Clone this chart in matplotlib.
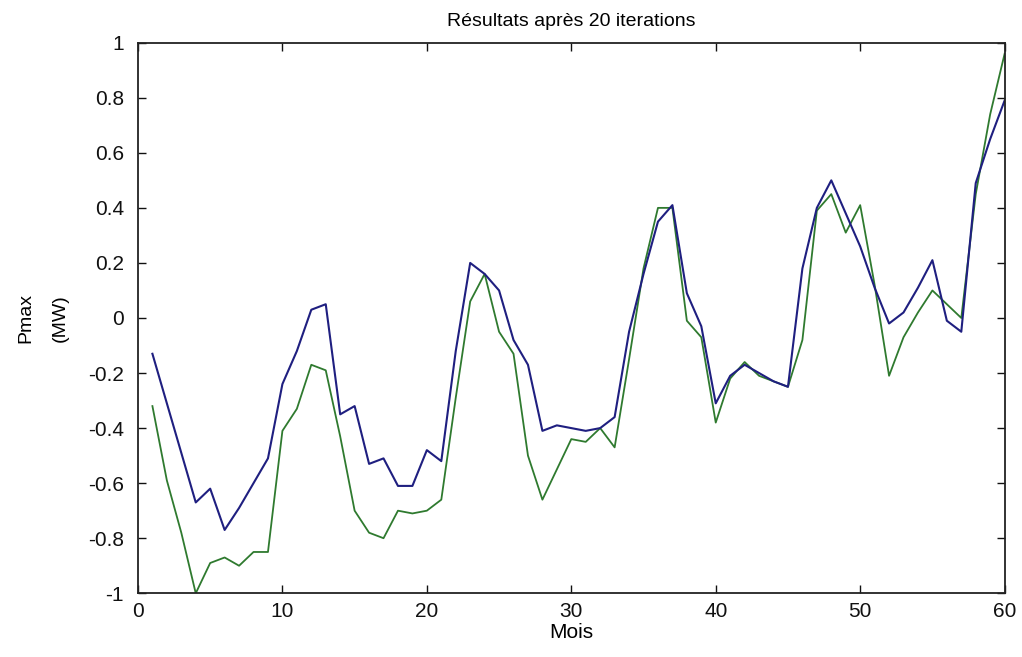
import matplotlib
matplotlib.use("Agg")
import matplotlib.pyplot as plt

# monthly Pmax values (MW) for the two runs
mois = list(range(1, 61))
pmax_bleu = [
    -0.13, -0.31, -0.49, -0.67, -0.62, -0.77, -0.69, -0.60, -0.51, -0.24,
    -0.12, 0.03, 0.05, -0.35, -0.32, -0.53, -0.51, -0.61, -0.61, -0.48,
    -0.52, -0.12, 0.20, 0.16, 0.10, -0.08, -0.17, -0.41, -0.39, -0.40,
    -0.41, -0.40, -0.36, -0.05, 0.16, 0.35, 0.41, 0.09, -0.03, -0.31,
    -0.21, -0.17, -0.20, -0.23, -0.25, 0.18, 0.40, 0.50, 0.38, 0.26,
    0.11, -0.02, 0.02, 0.11, 0.21, -0.01, -0.05, 0.49, 0.65, 0.79,
]
pmax_vert = [
    -0.32, -0.59, -0.78, -1.00, -0.89, -0.87, -0.90, -0.85, -0.85, -0.41,
    -0.33, -0.17, -0.19, -0.43, -0.70, -0.78, -0.80, -0.70, -0.71, -0.70,
    -0.66, -0.29, 0.06, 0.16, -0.05, -0.13, -0.50, -0.66, -0.55, -0.44,
    -0.45, -0.40, -0.47, -0.15, 0.18, 0.40, 0.40, -0.01, -0.07, -0.38,
    -0.22, -0.16, -0.21, -0.23, -0.25, -0.08, 0.39, 0.45, 0.31, 0.41,
    0.12, -0.21, -0.07, 0.02, 0.10, 0.05, 0.00, 0.45, 0.74, 0.96,
]
x_ticks = [0, 10, 20, 30, 40, 50, 60]
y_ticks = [-1, -0.8, -0.6, -0.4, -0.2, 0, 0.2, 0.4, 0.6, 0.8, 1]

plt.rcParams["font.family"] = ["Liberation Sans", "DejaVu Sans"]

fig = plt.figure(figsize=(10.22, 6.57), dpi=100)
ax = fig.add_axes([0.135, 0.097, 0.848, 0.838])

ax.plot(mois, pmax_vert, color="#2f7a2f", linewidth=1.3)
ax.plot(mois, pmax_bleu, color="#1f1f80", linewidth=1.5)

ax.set_xlim(0, 60)
ax.set_ylim(-1, 1)
ax.set_xticks(x_ticks)
ax.set_yticks(y_ticks)
ax.set_yticklabels([f"{v:g}" for v in y_ticks])
ax.tick_params(direction="in", length=6, width=1, top=True, right=True,
               labelsize=15, colors="#111111")
ax.tick_params(axis="y", pad=10)
ax.tick_params(axis="x", pad=6)
for spine in ax.spines.values():
    spine.set_linewidth(1.3)
    spine.set_color("#222222")

ax.set_title("Résultats après 20 iterations", fontsize=14, pad=12)
ax.set_xlabel("Mois", fontsize=15, labelpad=2)
ax.set_ylabel("Pmax\n(MW)", fontsize=14, labelpad=14, linespacing=2.3)

fig.savefig("out.png", dpi=100, facecolor="white")
